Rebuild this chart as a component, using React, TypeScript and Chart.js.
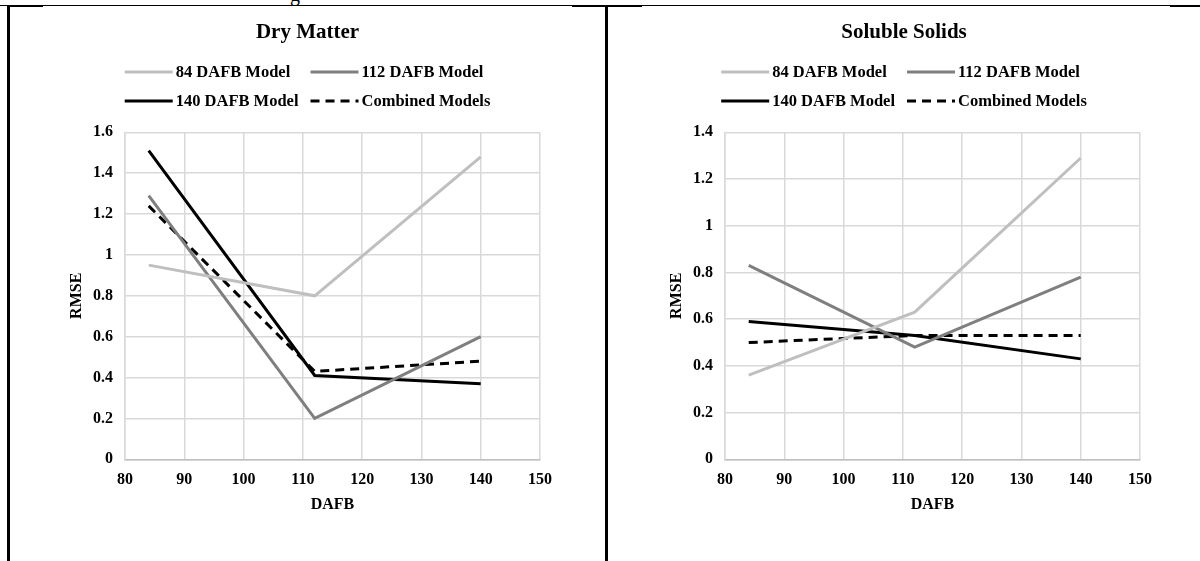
import React, { useEffect, useRef } from "react";
import { Chart, registerables } from "chart.js";

Chart.register(...registerables);

// ---------- data ----------
const dafb = [84, 112, 140];
const seriesLabels = ["84 DAFB Model", "112 DAFB Model", "140 DAFB Model", "Combined Models"];
const seriesColors = ["#bfbfbf", "#7f7f7f", "#000000", "#000000"];
const seriesDash: number[][] = [[], [], [], [9, 6]];

const dryMatter84 = [0.95, 0.8, 1.48];
const dryMatter112 = [1.29, 0.2, 0.6];
const dryMatter140 = [1.51, 0.41, 0.37];
const dryMatterCombined = [1.24, 0.43, 0.48];

const soluble84 = [0.36, 0.63, 1.29];
const soluble112 = [0.83, 0.48, 0.78];
const soluble140 = [0.59, 0.53, 0.43];
const solubleCombined = [0.5, 0.53, 0.53];

const xMin = 80;
const xMax = 150;
const xStep = 10;
const dryMatterYMax = 1.6;
const solubleYMax = 1.4;
const yStep = 0.2;

const FONT = '"Liberation Serif", "Times New Roman", serif';

type PanelProps = {
  title: string;
  series: number[][];
  yMax: number;
  width: number;
  height: number;
  padLeft: number;
  padRight: number;
};

const headerPlugin = {
  id: "header",
  afterDraw(chart: any, _args: any, opts: any) {
    const ctx = chart.ctx;
    const ds = chart.data.datasets;
    const cx = chart.width / 2;
    ctx.save();
    // title
    ctx.fillStyle = "#000";
    ctx.textAlign = "center";
    ctx.textBaseline = "middle";
    ctx.font = `bold 21px ${FONT}`;
    ctx.fillText(opts.title, cx, opts.titleY);
    // legend: two rows, two aligned columns
    ctx.font = `bold 16.5px ${FONT}`;
    const rows = [[0, 1], [2, 3]];
    const sample = 48;
    const gapText = 3;
    const gapCol = 12;
    const entryW = (i: number) => sample + gapText + ctx.measureText(ds[i].label).width;
    const col1W = Math.max(...rows.map((r) => entryW(r[0])));
    const col2W = Math.max(...rows.map((r) => entryW(r[1])));
    const blockW = col1W + gapCol + col2W;
    const x0 = cx - blockW / 2;
    rows.forEach((r, ri) => {
      const y = opts.rowY[ri];
      r.forEach((i, ci) => {
        let x = ci === 0 ? x0 : x0 + col1W + gapCol;
        const d = ds[i];
        ctx.strokeStyle = d.borderColor;
        ctx.lineWidth = d.borderWidth;
        ctx.setLineDash(d.borderDash || []);
        ctx.beginPath();
        ctx.moveTo(x, y);
        ctx.lineTo(x + sample, y);
        ctx.stroke();
        ctx.setLineDash([]);
        x += sample + gapText;
        ctx.fillStyle = "#000";
        ctx.textAlign = "left";
        ctx.textBaseline = "middle";
        ctx.fillText(d.label, x, y + 1);
      });
    });
    ctx.restore();
  },
};

function Panel({ title, series, yMax, width, height, padLeft, padRight }: PanelProps) {
  const ref = useRef<HTMLCanvasElement | null>(null);
  useEffect(() => {
    if (!ref.current) return;
    const tickFont = { family: FONT, size: 16, weight: "bold" as const };
    const chart = new Chart(ref.current, {
      type: "line",
      data: {
        datasets: series.map((vals, i) => ({
          label: seriesLabels[i],
          data: dafb.map((x, j) => ({ x, y: vals[j] })),
          borderColor: seriesColors[i],
          backgroundColor: seriesColors[i],
          borderWidth: 3,
          borderDash: seriesDash[i],
          pointRadius: 0,
          tension: 0,
          fill: false,
        })),
      },
      options: {
        responsive: false,
        animation: false,
        devicePixelRatio: 1,
        layout: { padding: { top: 124.3, left: padLeft, right: padRight, bottom: 41.7 } },
        plugins: {
          legend: { display: false },
          tooltip: { enabled: false },
          header: { title, titleY: 25, rowY: [64, 93] },
        } as any,
        scales: {
          x: {
            type: "linear",
            min: xMin,
            max: xMax,
            ticks: { stepSize: xStep, padding: 11, color: "#000", font: tickFont },
            grid: { color: "#d9d9d9", lineWidth: 1.5, drawTicks: false },
            border: { color: "#bfbfbf", width: 1.5 },
            title: {
              display: true,
              text: "DAFB",
              color: "#000",
              font: tickFont,
              padding: { top: 0, bottom: 5 },
            },
            afterFit: (s: any) => {
              s.height = 60;
            },
          },
          y: {
            type: "linear",
            min: 0,
            max: yMax,
            ticks: {
              stepSize: yStep,
              padding: 12,
              color: "#000",
              font: tickFont,
              callback: (v: any) => String(Number(Number(v).toFixed(1))),
            },
            grid: { color: "#d9d9d9", lineWidth: 1.5, drawTicks: false },
            border: { color: "#d9d9d9", width: 1.5 },
            title: {
              display: true,
              text: "RMSE",
              color: "#000",
              font: tickFont,
              padding: { top: 2.5, bottom: 0 },
            },
            afterFit: (s: any) => {
              s.width = 60;
            },
          },
        },
      },
      plugins: [headerPlugin],
    });
    return () => chart.destroy();
  }, []);
  return <canvas ref={ref} width={width} height={height} style={{ width, height, display: "block" }} />;
}

export default function App() {
  return (
    <div
      style={{
        position: "fixed",
        left: 0,
        top: 0,
        width: 1200,
        height: 561,
        background: "#fff",
        overflow: "hidden",
      }}
    >
      {/* cut-off caption glyph above the table */}
      <div
        style={{
          position: "absolute",
          left: 290,
          top: -16,
          fontFamily: FONT,
          fontSize: 20,
          lineHeight: "20px",
          color: "#000",
        }}
      >
        g
      </div>
      {/* table borders */}
      <div style={{ position: "absolute", left: 0, top: 5, width: 1200, height: 1, background: "#000" }} />
      <div style={{ position: "absolute", left: 7, top: 5, width: 36, height: 2, background: "#000" }} />
      <div style={{ position: "absolute", left: 572, top: 5, width: 70, height: 2, background: "#000" }} />
      <div style={{ position: "absolute", left: 1170, top: 5, width: 30, height: 2, background: "#000" }} />
      <div style={{ position: "absolute", left: 7, top: 5, width: 3, height: 556, background: "#000" }} />
      <div style={{ position: "absolute", left: 605, top: 5, width: 3, height: 556, background: "#000" }} />
      {/* panels */}
      <div style={{ position: "absolute", left: 10, top: 8 }}>
        <Panel
          title="Dry Matter"
          series={[dryMatter84, dryMatter112, dryMatter140, dryMatterCombined]}
          yMax={dryMatterYMax}
          width={595}
          height={553}
          padLeft={55}
          padRight={65}
        />
      </div>
      <div style={{ position: "absolute", left: 608, top: 8 }}>
        <Panel
          title="Soluble Solids"
          series={[soluble84, soluble112, soluble140, solubleCombined]}
          yMax={solubleYMax}
          width={592}
          height={553}
          padLeft={57}
          padRight={60}
        />
      </div>
    </div>
  );
}
